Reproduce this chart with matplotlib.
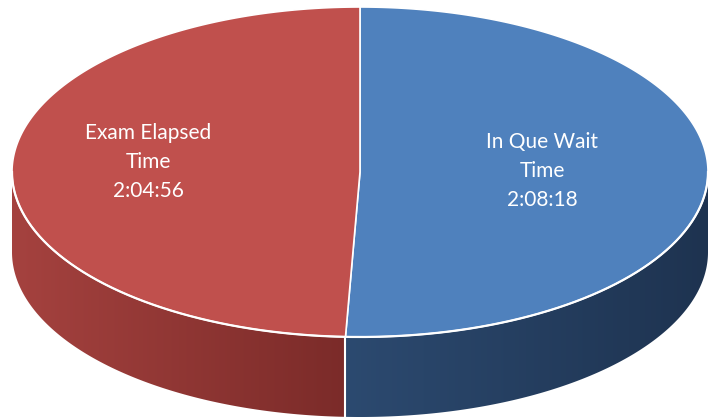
import numpy as np
import matplotlib
matplotlib.use("Agg")
import matplotlib.pyplot as plt
from matplotlib.patches import Polygon
from matplotlib.colors import to_rgb

# ---- data ----
categories = ["In Que Wait\nTime", "Exam Elapsed\nTime"]
durations = ["2:08:18", "2:04:56"]
top_colors = ["#4F81BD", "#C0504D"]
side_colors_left = ["#2C4A70", "#A5423F"]
side_colors_right = ["#1E3350", "#7B2B29"]

def to_sec(s):
    h, m, sec = [int(p) for p in s.split(":")]
    return h * 3600 + m * 60 + sec

values = np.array([to_sec(d) for d in durations], dtype=float)

# ---- geometry (pixel space) ----
W, H = 709, 418
cx, cy, a, b, depth = 360.0, 172.0, 348.0, 165.0, 80.0

fig = plt.figure(figsize=(W / 100, H / 100), dpi=100)
ax = fig.add_axes([0, 0, 1, 1])

def pt(t, dz=0.0):
    return cx + a * np.cos(t), cy - b * np.sin(t) + dz

fracs = values / values.sum()
angles = 90.0 - 360.0 * np.concatenate([[0], np.cumsum(fracs)])  # degrees, clockwise from top

# ---- side faces (visible front half: -180..0 deg) ----
for i in range(len(values)):
    s_lo, s_hi = angles[i + 1], angles[i]
    seg = None
    for shift in (-360, 0, 360):
        lo = max(s_lo + shift, -180.0)
        hi = min(s_hi + shift, 0.0)
        if hi > lo:
            seg = (lo, hi)
            break
    if seg is None:
        continue
    lo, hi = seg
    tt = np.radians(np.linspace(lo, hi, 300))
    xs, ys = pt(tt)
    poly = list(zip(xs, ys)) + list(zip(xs[::-1], ys[::-1] + depth))
    patch = Polygon(poly, closed=True, facecolor="none", edgecolor="none")
    ax.add_patch(patch)
    x0, x1 = xs.min(), xs.max()
    c0 = np.array(to_rgb(side_colors_left[i]))
    c1 = np.array(to_rgb(side_colors_right[i]))
    f = np.linspace(0, 1, 256)[None, :, None]
    img = c0 + (c1 - c0) * f
    im = ax.imshow(img, extent=(x0 - 1, x1 + 1, ys.max() + depth + 2, ys.min() - 2),
                   aspect="auto", interpolation="bilinear", zorder=1)
    im.set_clip_path(patch)

# split line on the side
split_t = np.radians(angles[1])
sx, sy = pt(split_t)
ax.plot([sx, sx], [sy, sy + depth], color="white", lw=1.5, zorder=2)

# ---- top faces ----
for i in range(len(values)):
    tt = np.radians(np.linspace(angles[i], angles[i + 1], 300))
    xs, ys = pt(tt)
    poly = [(cx, cy)] + list(zip(xs, ys))
    ax.add_patch(Polygon(poly, closed=True, facecolor=top_colors[i],
                         edgecolor="white", lw=1.2, joinstyle="round", zorder=3))

# white rim along front edge of top
tt = np.linspace(np.pi, 2 * np.pi, 300)
xs, ys = pt(tt)
ax.plot(xs, ys, color="white", lw=1.6, zorder=4)

# ---- labels ----
label_pos = [(542, 171), (148, 162)]
for i in range(len(values)):
    ax.text(label_pos[i][0], label_pos[i][1], categories[i] + "\n" + durations[i],
            ha="center", va="center", color="white", fontsize=15,
            family=["Lato", "DejaVu Sans"], linespacing=1.55, zorder=5)

ax.set_xlim(0, W)
ax.set_ylim(H, 0)
ax.axis("off")
fig.savefig("out.png", dpi=100)
